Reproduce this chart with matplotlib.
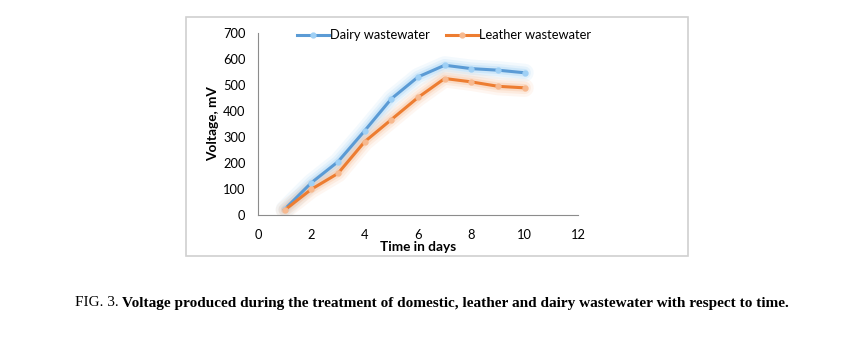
import matplotlib.pyplot as plt
from matplotlib.patches import Rectangle

# Voltage readings over the treatment period
days = [1, 2, 3, 4, 5, 6, 7, 8, 9, 10]
dairy = [22, 124, 205, 324, 447, 531, 576, 563, 557, 547]
leather = [19, 99, 160, 282, 367, 452, 525, 512, 495, 489]

x_ticks = [0, 2, 4, 6, 8, 10, 12]
y_ticks = [0, 100, 200, 300, 400, 500, 600, 700]

blue = '#5B9BD5'
orange = '#ED7D31'

fig = plt.figure(figsize=(8.49, 3.45), dpi=100)

# Light grey frame around the chart area
fig.patches.append(Rectangle((186 / 849, 1 - 256 / 345), 502 / 849, 239 / 345,
                             transform=fig.transFigure, fill=False,
                             edgecolor='#d0d0d0', linewidth=1.2))

ax = fig.add_axes([258 / 849, 1 - 215 / 345, 320 / 849, 182 / 345])

for ys, col, glow, label in [(dairy, blue, '#9fd0f5', 'Dairy wastewater'),
                             (leather, orange, '#f7b98f', 'Leather wastewater')]:
    # soft glow under each line
    for lw, a in [(13, 0.12), (9, 0.18), (5.5, 0.3)]:
        ax.plot(days, ys, color=glow, linewidth=lw, alpha=a,
                solid_capstyle='round', solid_joinstyle='round', zorder=1)
    ax.plot(days, ys, color=col, linewidth=2.2, marker='o', markersize=3.5,
            markerfacecolor=glow, markeredgecolor=glow, label=label, zorder=3)

ax.set_xlim(0, 12)
ax.set_ylim(0, 700)
ax.set_xticks(x_ticks)
ax.set_yticks(y_ticks)
ax.tick_params(length=0, labelsize=9.3)
ax.tick_params(axis='x', pad=10)
ax.tick_params(axis='y', pad=9)
for lbl in ax.get_xticklabels() + ax.get_yticklabels():
    lbl.set_family('Lato')

for s in ['top', 'right']:
    ax.spines[s].set_visible(False)
for s in ['left', 'bottom']:
    ax.spines[s].set_color('#8c8c8c')
    ax.spines[s].set_linewidth(0.8)

ax.set_xlabel('Time in days', fontsize=9.8, fontweight='bold', family='Lato', labelpad=0)
ax.set_ylabel('Voltage, mV', fontsize=9.8, fontweight='bold', family='Lato', labelpad=3)

leg = ax.legend(loc='upper left', bbox_to_anchor=(0.105, 1.05), ncol=2, frameon=False,
                prop={'family': 'Lato', 'size': 9.3}, handlelength=2.5,
                handletextpad=0.1, columnspacing=1.2, borderaxespad=0)

# Figure caption: regular prefix followed by bold text
fig.canvas.draw()
r = fig.canvas.get_renderer()
t1 = fig.text(75 / 849, 1 - 303 / 345, 'FIG. 3. ', family='Liberation Serif',
              fontsize=11, va='center', ha='left')
bb = t1.get_window_extent(renderer=r)
fig.text(bb.x1 / fig.bbox.width, 1 - 303 / 345,
         'Voltage produced during the treatment of domestic, leather and dairy wastewater with respect to time.',
         family='Liberation Serif', fontsize=11, fontweight='bold', va='center', ha='left')

fig.savefig('out.png', dpi=100)
